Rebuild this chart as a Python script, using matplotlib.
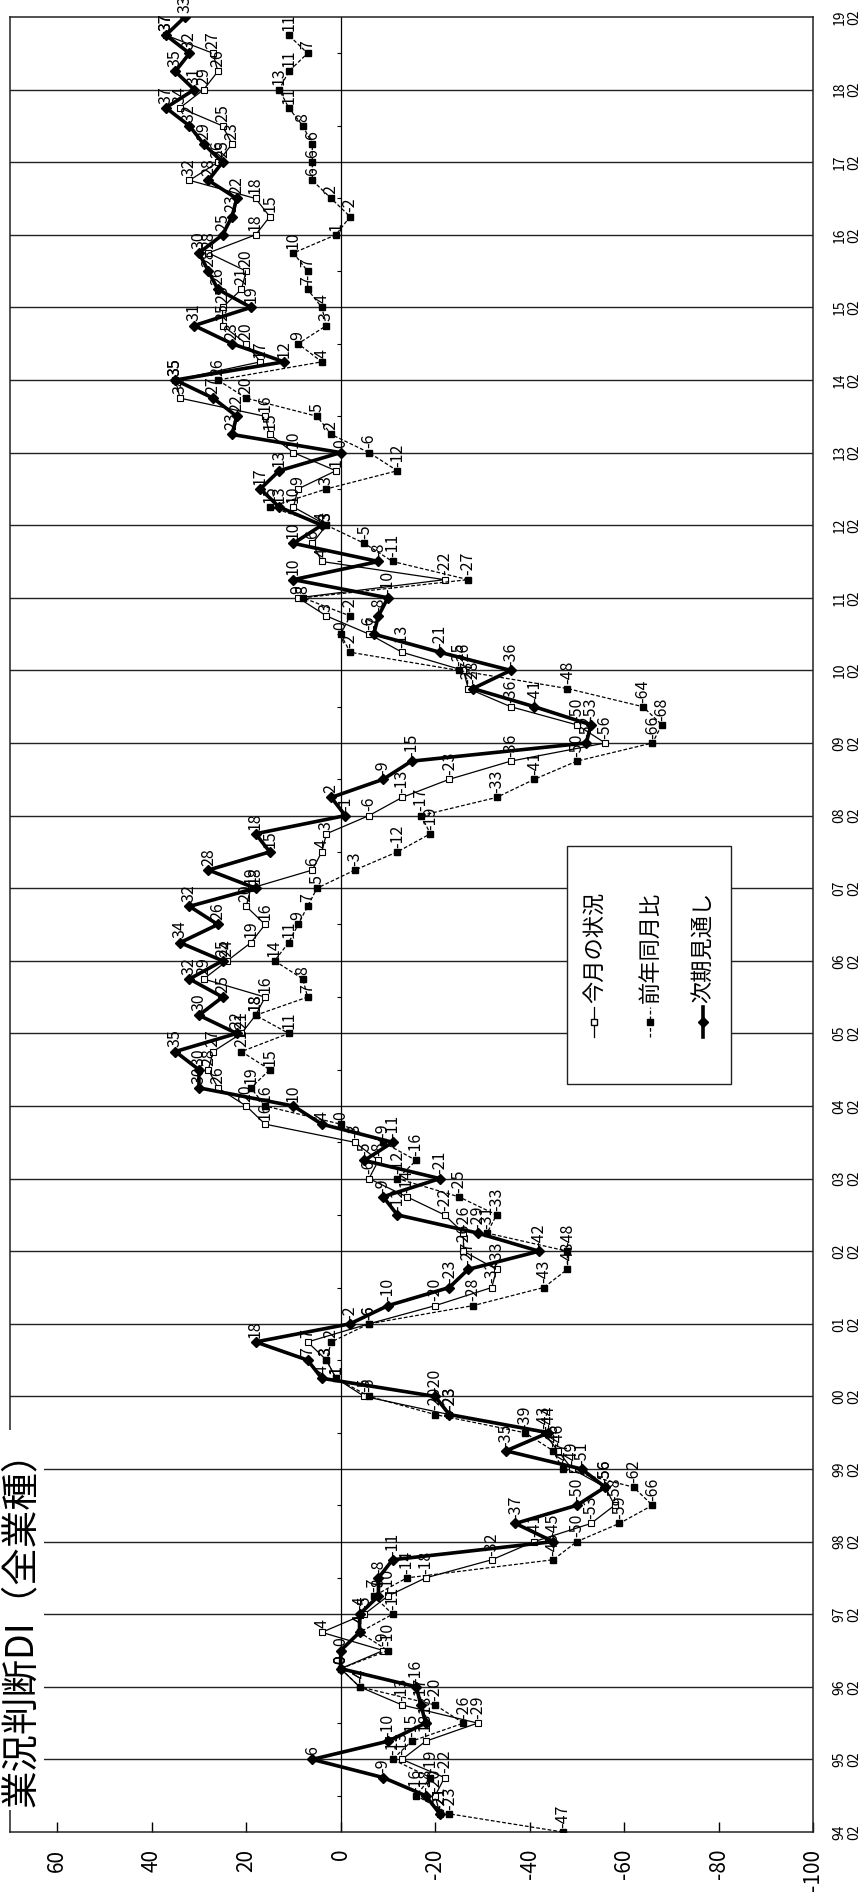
import numpy as np
import matplotlib
matplotlib.use("Agg")
import matplotlib.pyplot as plt
from matplotlib.lines import Line2D
from matplotlib.patches import Rectangle

plt.rcParams['font.family'] = ['Noto Sans CJK JP', 'DejaVu Sans']

nan = np.nan

# Quarterly survey results, Feb / May / Aug / Nov, from 1994-02 to 2019-02
current = [  # 今月の状況
    nan, -21, -20, -22,   # 94
    -13, -18, -29, -13,   # 95
    -4, 0, -9, 4,         # 96
    -5, -10, -18, -32,    # 97
    -41, -53, -58, -56,   # 98
    -49, -46, -43, -23,   # 99
    -5, 1, 3, 7,          # 00
    -6, -20, -32, -33,    # 01
    -26, -26, -22, -14,   # 02
    -6, -8, -3, 16,       # 03
    20, 26, 28, 27,       # 04
    21, 18, 16, 29,       # 05
    24, 19, 16, 20,       # 06
    19, 6, 4, 3,          # 07
    -6, -13, -23, -36,    # 08
    -56, -50, -36, -27,   # 09
    -26, -13, -6, 3,      # 10
    9, -22, 4, 6,         # 11
    3, 10, 9, 1,          # 12
    10, 15, 16, 34,       # 13
    35, 17, 20, 25,       # 14
    25, 21, 20, 28,       # 15
    18, 15, 18, 32,       # 16
    26, 23, 25, 34,       # 17
    29, 26, 27, 37,       # 18
    nan,                  # 19
]

yoy = [  # 前年同月比
    -47, -23, -16, -19,
    -11, -15, -26, -20,
    -4, 0, -10, -4,
    -11, -7, -14, -45,
    -50, -59, -66, -62,
    -47, -45, -39, -20,
    -6, 1, 3, 2,
    -6, -28, -43, -48,
    -48, -31, -33, -25,
    -12, -16, -9, 0,
    16, 19, 15, 21,
    11, 18, 7, 8,
    14, 11, 9, 7,
    5, -3, -12, -19,
    -17, -33, -41, -50,
    -66, -68, -64, -48,
    -25, -2, 0, -2,
    8, -27, -11, -5,
    3, 15, 3, -12,
    -6, 2, 5, 20,
    26, 4, 9, 3,
    4, 7, 7, 10,
    1, -2, 2, 6,
    6, 6, 8, 11,
    13, 11, 7, 11,
    nan,
]

outlook = [  # 次期見通し
    nan, -21, -18, -9,
    6, -10, -18, -17,
    -16, 0, 0, -4,
    -4, -8, -8, -11,
    -45, -37, -50, -56,
    -51, -35, -44, -23,
    -20, 4, 7, 18,
    -2, -10, -23, -27,
    -42, -29, -12, -9,
    -21, -5, -11, 4,
    10, 30, 30, 35,
    22, 30, 25, 32,
    25, 34, 26, 32,
    18, 28, 15, 18,
    -1, 2, -9, -15,
    -52, -53, -41, -28,
    -36, -21, -7, -8,
    -10, 10, -8, 10,
    4, 13, 17, 13,
    0, 23, 22, 27,
    35, 12, 23, 31,
    19, 26, 28, 30,
    25, 23, 22, 28,
    25, 29, 32, 37,
    31, 35, 32, 37,
    33,
]

series_names = ['今月の状況', '前年同月比', '次期見通し']
year_labels = [f"{y % 100:02d}\n02" for y in range(1994, 2020)]
di_ticks = [60, 40, 20, 0, -20, -40, -60, -80, -100]
title = '業況判断DI（全業種）'

W, H = 868, 1897
fig = plt.figure(figsize=(W / 100, H / 100), dpi=100)
L, R, T, B = 10, 813, 17, 1832
ax = fig.add_axes([L / W, 1 - B / H, (R - L) / W, (B - T) / H])

q = np.arange(len(outlook))
ax.set_xlim(70, -100)
ax.set_ylim(0, len(outlook) - 1)

# yearly grid (February) and zero line
feb = np.arange(0, len(outlook), 4)
for f in feb[1:-1]:
    ax.axhline(f, color='#222222', lw=1.0, zorder=1)
ax.axvline(0, color='black', lw=0.9, zorder=1)
aug = np.arange(2, len(outlook), 4)
ax.hlines(aug, 0, 0.7, color='black', lw=0.8, zorder=1)

cur_style = dict(color='black', lw=0.9, marker='s', ms=4.6, mfc='white', mec='black', mew=0.8)
yoy_style = dict(color='black', lw=0.9, ls=(0, (3, 1.6)), marker='s', ms=4.6, mfc='black', mec='black')
out_style = dict(color='black', lw=2.6, marker='D', ms=5.5, mfc='black', mec='black')

ax.plot(current, q, zorder=3, **cur_style)
ax.plot(yoy, q, zorder=3, **yoy_style)
ax.plot(outlook, q, zorder=4, **out_style)

for vals in (current, yoy, outlook):
    for qi, v in zip(q, vals):
        if np.isnan(v):
            continue
        ax.annotate(f"{int(v)}", (v, qi), xytext=(0, 3), textcoords='offset points',
                    rotation=90, ha='center', va='bottom', fontsize=11.5, zorder=5)

# axes styling
ax.set_xticks(di_ticks)
ax.set_xticklabels([str(t) for t in di_ticks], rotation=90, fontsize=15)
ax.tick_params(axis='x', direction='in', length=7, width=1, pad=12, top=False)
ax.yaxis.set_ticks_position('right')
ax.set_yticks(feb)
ax.set_yticklabels(year_labels, rotation=90, fontsize=10, va='center', ha='left',
                   linespacing=1.1)
ax.tick_params(axis='y', length=0, pad=14)
for s in ax.spines.values():
    s.set_linewidth(1.1)
    s.set_color('#222222')

# legend box
def af(px, py):
    return ((px - L) / (R - L), (B - py) / (B - T))

x0, y1 = af(567, 846)
x1, y0 = af(731, 1084)
ax.add_patch(Rectangle((x0, y0), x1 - x0, y1 - y0, transform=ax.transAxes,
                       facecolor='white', edgecolor='#222222', lw=1.0, zorder=6))
styles = [cur_style, yoy_style, out_style]
for px, name, st in zip([594, 650, 703], series_names, styles):
    xa, ya_top = af(px, 1007)
    _, ya_bot = af(px, 1037)
    _, ya_mid = af(px, 1022)
    st2 = dict(st)
    marker = st2.pop('marker')
    ms = st2.pop('ms')
    mfc = st2.pop('mfc')
    mec = st2.pop('mec')
    st2.pop('mew', None)
    ax.add_line(Line2D([xa, xa], [ya_bot, ya_top], transform=ax.transAxes, zorder=7, **st2))
    ax.add_line(Line2D([xa], [ya_mid], transform=ax.transAxes, marker=marker, ms=ms,
                       mfc=mfc, mec=mec, ls='none', zorder=8))
    _, yt = af(px, 1003)
    ax.text(xa, yt, name, transform=ax.transAxes, rotation=90, ha='center', va='bottom',
            fontsize=16, zorder=8)

fig.text(22 / W, 1 - 1620 / H, title, rotation=90, ha='center', va='center', fontsize=27,
         bbox=dict(facecolor='white', edgecolor='none', pad=2), zorder=10)

fig.savefig('out.png', dpi=100)
